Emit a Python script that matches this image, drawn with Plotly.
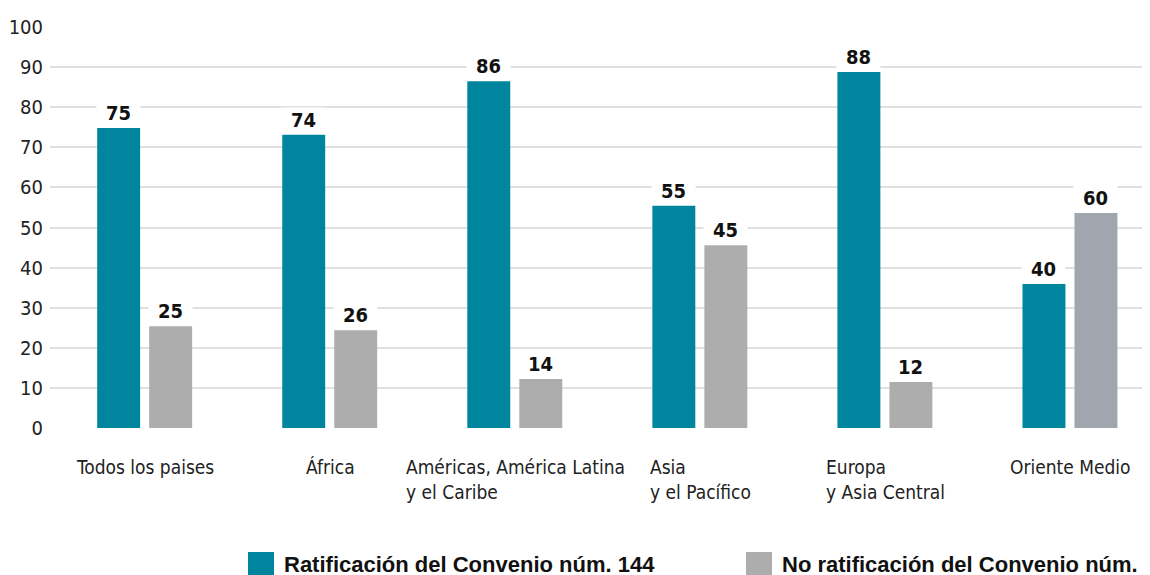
import plotly.graph_objects as go

categories = ["Todos los paises", "África", "Américas, América Latina<br>y el Caribe",
              "Asia<br>y el Pacífico", "Europa<br>y Asia Central", "Oriente Medio"]
ratif_labels = [75, 74, 86, 55, 88, 40]
noratif_labels = [25, 26, 14, 45, 12, 60]
# bar heights as drawn in the picture
ratif_heights = [74.8, 73.1, 86.5, 55.4, 88.8, 35.9]
noratif_heights = [25.4, 24.4, 12.2, 45.6, 11.5, 53.6]
y_ticks = [0, 10, 20, 30, 40, 50, 60, 70, 80, 90, 100]
series_names = ["Ratificación del Convenio núm. 144", "No ratificación del Convenio núm. 144"]

TEAL = "#00859f"
GRAY = "#adadad"
GRAY2 = "#9fa6ad"
COND = "DejaVu Sans Condensed, Liberation Sans Narrow, Arial Narrow, sans-serif"
LEG = "Liberation Sans, Arial, sans-serif"

# figure geometry (page body adds an 8px offset)
L, T, PW, PH = 42, 19, 1100, 401

x = list(range(len(categories)))
fig = go.Figure()
fig.add_trace(go.Bar(x=x, y=ratif_heights, name=series_names[0], marker_color=TEAL,
                     width=0.232, offset=-0.259, marker_line_width=0, showlegend=False))
fig.add_trace(go.Bar(x=x, y=noratif_heights, name=series_names[1],
                     marker_color=[GRAY] * 5 + [GRAY2],
                     width=0.232, offset=0.022, marker_line_width=0, showlegend=False))

ann = []
for i in x:
    for h, lab, off in ((ratif_heights[i], ratif_labels[i], -0.143),
                        (noratif_heights[i], noratif_labels[i], 0.138)):
        ann.append(dict(x=i + off, y=h, xref="x", yref="y", text=f"<b>{lab}</b>",
                        showarrow=False, yanchor="bottom", yshift=2, width=43,
                        bgcolor="white", borderpad=0,
                        font=dict(family=COND, size=20, color="#111")))
    ann.append(dict(x=i, y=0, xref="x", yref="paper", text=categories[i],
                    showarrow=False, yanchor="top", yshift=-26, align="left",
                    font=dict(family=COND, size=19, color="#222")))

# custom legend
shapes = []
leg_x = [240, 738]
leg_cols = [TEAL, GRAY]
for lx, col, name in zip(leg_x, leg_cols, series_names):
    shapes.append(dict(type="rect", xref="paper", yref="paper",
                       x0=(lx - L) / PW, x1=(lx + 26 - L) / PW,
                       y0=(T + PH - 570) / PH, y1=(T + PH - 544) / PH,
                       fillcolor=col, line_width=0))
    ann.append(dict(x=(lx + 34 - L) / PW, y=(T + PH - 556) / PH, xref="paper", yref="paper",
                    text=f"<b>{name}</b>", showarrow=False, xanchor="left", yanchor="middle",
                    font=dict(family=LEG, size=22, color="#111")))

fig.update_layout(
    width=1150, height=575,
    margin=dict(l=L, r=1150 - L - PW, t=T, b=575 - T - PH),
    plot_bgcolor="white", paper_bgcolor="white",
    annotations=ann, shapes=shapes,
    xaxis=dict(range=[-0.514, 5.43], showticklabels=False, showgrid=False, zeroline=False,
               fixedrange=True, automargin=False),
    yaxis=dict(range=[0, 100], tickvals=y_ticks, showgrid=True, gridcolor="#e0e0e0",
               gridwidth=1.5, zeroline=False, ticks="", ticklabelstandoff=6,
               automargin=False,
               tickfont=dict(family=COND, size=20, color="#222")),
    showlegend=False,
)
fig.write_html("out.html")
